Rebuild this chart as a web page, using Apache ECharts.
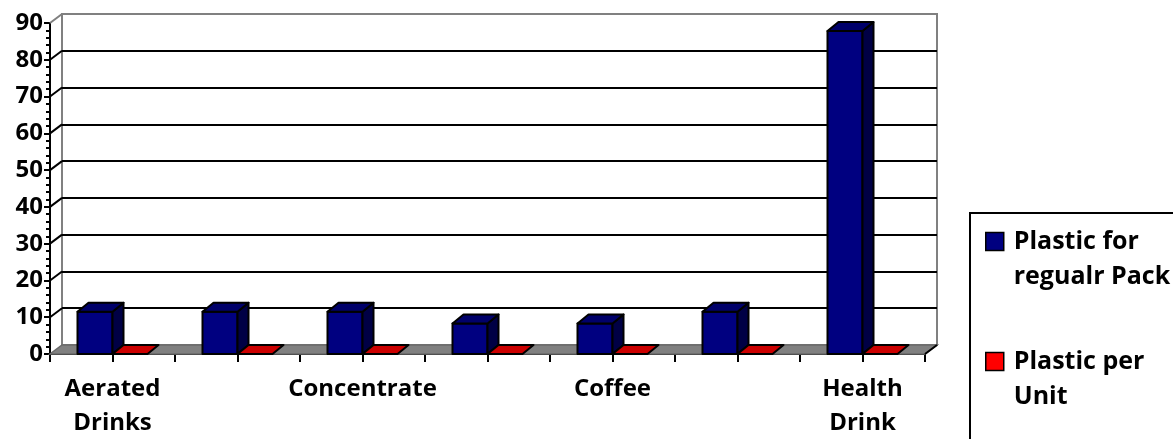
<!DOCTYPE html>
<html><head><meta charset="utf-8">
<script src="https://cdn.jsdelivr.net/npm/echarts@6/dist/echarts.min.js"></script>
<style>html,body{margin:0;padding:0;background:#fff}#c{width:1173px;height:439px}</style>
</head><body><div id="c"></div>
<script>
// ---- data ----
const categories = ['Aerated Drinks', '', 'Concentrate', '', 'Coffee', '', 'Health Drink'];
const plasticRegularPack = [11.5, 11.5, 11.5, 8.3, 8.3, 11.5, 87.8];
const plasticPerUnit = [0, 0, 0, 0, 0, 0, 0];
const seriesNames = ['Plastic for\nregualr Pack', 'Plastic per\nUnit'];
const yMin = 0, yMax = 90, yStep = 10;

// ---- styling ----
const FONT = '"Open Sans", "Noto Sans", sans-serif';
const DX = 12, DY = -9;      // depth of the 3D box
const BDX = 11, BDY = -9;    // depth of the bars
const BAR_FRAC = 0.28;
const blue = {front: '#000080', side: '#000045', top: '#00006A', legend: '#000080'};
const red = {front: '#FF0000', side: '#990000', top: '#CC0000', legend: '#FF0000'};

const yTicks = [];
for (let v = yMin; v <= yMax; v += yStep) yTicks.push(v);

function barRenderer(side, col) {
  return function (params, api) {
    const cat = api.value(0), val = api.value(1);
    const base = api.coord([cat, 0]);
    const top = api.coord([cat, val]);
    const band = api.size([1, 0])[0];
    const w = band * BAR_FRAC;
    const x0 = side === 0 ? base[0] - w : base[0];
    const x1 = x0 + w;
    const yb = base[1], yt = top[1];
    const st = {stroke: '#000', lineWidth: 2, lineJoin: 'round'};
    const children = [];
    if (yb - yt > 0.5) {
      children.push({type: 'polygon', shape: {points: [[x0, yt], [x1, yt], [x1, yb], [x0, yb]]}, style: Object.assign({fill: col.front}, st)});
      children.push({type: 'polygon', shape: {points: [[x1, yt], [x1 + BDX, yt + BDY], [x1 + BDX, yb + BDY], [x1, yb]]}, style: Object.assign({fill: col.side}, st)});
    }
    children.push({type: 'polygon', shape: {points: [[x0, yt], [x1, yt], [x1 + BDX, yt + BDY], [x0 + BDX, yt + BDY]]}, style: Object.assign({fill: col.top}, st)});
    return {type: 'group', children: children};
  };
}

function floorRenderer(params, api) {
  const band = api.size([1, 0])[0];
  const n = categories.length;
  const left = api.coord([0, 0])[0] - band / 2;
  const right = api.coord([n - 1, 0])[0] + band / 2;
  const y0 = api.coord([0, 0])[1];
  const children = [];
  children.push({type: 'polygon', shape: {points: [[left, y0], [right, y0], [right + DX, y0 + DY], [left + DX, y0 + DY]]},
    style: {fill: '#808080', stroke: '#6a6a6a', lineWidth: 1.5}});
  children.push({type: 'line', shape: {x1: right, y1: y0, x2: right + DX, y2: y0 + DY}, style: {stroke: '#000', lineWidth: 2}});
  yTicks.forEach(function (v) {
    if (v === yMin) return;
    const y = api.coord([0, v])[1];
    children.push({type: 'line', shape: {x1: left, y1: y, x2: left + DX, y2: y + DY},
      style: {stroke: v === yMax ? '#808080' : '#000', lineWidth: 2}});
  });
  return {type: 'group', children: children};
}

const labelStyle = {color: '#000', fontFamily: FONT, fontWeight: 'bold', fontSize: 24};

const option = {
  animation: false,
  backgroundColor: '#fff',
  graphic: [{
    type: 'rect', left: 969, top: 212, z: -10,
    shape: {width: 260, height: 260},
    style: {fill: '#fff', stroke: '#000', lineWidth: 2}
  }],
  legend: {
    orient: 'vertical', left: 985, top: 189, padding: 0,
    itemWidth: 18, itemHeight: 18, itemGap: 15,
    data: [
      {name: seriesNames[0], icon: 'rect', itemStyle: {color: blue.legend, borderColor: '#000', borderWidth: 1.5}},
      {name: seriesNames[1], icon: 'rect', itemStyle: {color: red.legend, borderColor: '#000', borderWidth: 1.5}}
    ],
    formatter: function (name) { return '\n' + name; },
    textStyle: {color: '#000', fontFamily: FONT, fontWeight: 'bold', fontSize: 25, lineHeight: 35, padding: [0, 0, 0, 5]}
  },
  grid: [
    {left: 50, top: 23, width: 875, height: 331, outerBoundsMode: 'none', containLabel: false},
    {left: 62, top: 14, width: 875, height: 331, outerBoundsMode: 'none', containLabel: false,
      show: true, backgroundColor: '#fff', borderColor: '#808080', borderWidth: 2, z: -1}
  ],
  xAxis: [
    {type: 'category', gridIndex: 0, data: categories, position: 'bottom',
      axisLine: {show: true, lineStyle: {color: '#000', width: 2}},
      axisTick: {show: true, interval: 0, length: 8, lineStyle: {color: '#000', width: 2}},
      axisLabel: Object.assign({interval: 1, margin: 18, lineHeight: 34, formatter: function (v) { return v.replace(' ', '\n'); }}, labelStyle),
      splitLine: {show: false}},
    {type: 'category', gridIndex: 0, data: categories, position: 'bottom',
      axisLine: {show: false},
      axisTick: {show: true, alignWithLabel: true, interval: 0, length: 8, lineStyle: {color: '#000', width: 2}},
      axisLabel: {show: false}, splitLine: {show: false}},
    {type: 'category', gridIndex: 1, data: categories, show: false}
  ],
  yAxis: [
    {type: 'value', gridIndex: 0, min: yMin, max: yMax, interval: yStep,
      axisLine: {show: true, lineStyle: {color: '#000', width: 2}},
      axisTick: {show: true, length: 6, lineStyle: {color: '#000', width: 2}},
      minorTick: {show: true, splitNumber: 5, length: 4, lineStyle: {color: '#000', width: 2}},
      axisLabel: Object.assign({margin: 7}, labelStyle),
      splitLine: {show: false}},
    {type: 'value', gridIndex: 1, min: yMin, max: yMax, interval: yStep,
      axisLine: {show: false}, axisTick: {show: false}, axisLabel: {show: false},
      splitLine: {show: true, showMinLine: false, showMaxLine: false, lineStyle: {color: '#000', width: 2}}}
  ],
  series: [
    {type: 'custom', name: 'floor', xAxisIndex: 0, yAxisIndex: 0, z: 1, silent: true,
      renderItem: floorRenderer, data: [[0, 0]], encode: {x: 0, y: 1}},
    {type: 'custom', name: seriesNames[0], xAxisIndex: 0, yAxisIndex: 0, z: 3,
      itemStyle: {color: blue.legend, borderColor: '#000', borderWidth: 1.5},
      renderItem: barRenderer(0, blue),
      data: plasticRegularPack.map(function (v, i) { return [i, v]; }), encode: {x: 0, y: 1}},
    {type: 'custom', name: seriesNames[1], xAxisIndex: 0, yAxisIndex: 0, z: 3,
      itemStyle: {color: red.legend, borderColor: '#000', borderWidth: 1.5},
      renderItem: barRenderer(1, red),
      data: plasticPerUnit.map(function (v, i) { return [i, v]; }), encode: {x: 0, y: 1}}
  ]
};

const chart = echarts.init(document.getElementById('c'), null, {renderer: 'canvas'});
chart.setOption(option);
</script>
</body></html>
